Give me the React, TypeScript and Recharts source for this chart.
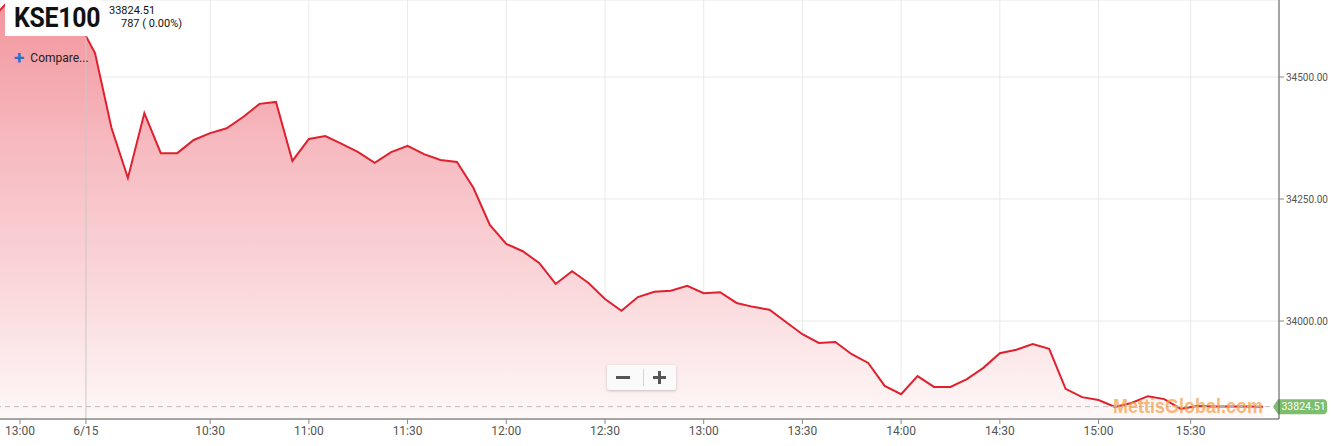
import React from 'react';
import { ComposedChart, Area, XAxis, YAxis, CartesianGrid, ReferenceLine } from 'recharts';

// previous session tail (positions -6..-1)
const prevDayValues = [34629, 34665, 34680, 34680, 34665, 34612];
// 6/15 session
const dayValues = [
  34549, 34396, 34293, 34426, 34344, 34344, 34371, 34385, 34395, 34418,
  34445, 34449, 34328, 34373, 34379, 34363, 34346, 34324, 34346, 34359,
  34342, 34330, 34326, 34273, 34197, 34158, 34143, 34119, 34076, 34102,
  34078, 34045, 34021, 34049, 34060, 34062, 34072, 34057, 34059, 34037,
  34029, 34023, 33998, 33973, 33955, 33957, 33932, 33914, 33867, 33850,
  33887, 33865, 33865, 33881, 33904, 33934, 33941, 33953, 33943, 33861,
  33844, 33838, 33824, 33832, 33846, 33840, 33820, 33826, 33825, 33825,
  33825, 33824.51,
];
const tickPositions = [-4.56, -0.55, 7, 13, 19, 25, 31, 37, 43, 49, 55, 61, 66.6];
const tickLabels = ['13:00', '6/15', '10:30', '11:00', '11:30', '12:00', '12:30', '13:00', '13:30', '14:00', '14:30', '15:00', '15:30'];
const yTicks = [34000, 34250, 34500];
const lastPrice = 33824.51;
const symbol = 'KSE100';
const changeText = '787 ( 0.00%)';
const watermark = 'MettisGlobal.com';

const data = [
  ...prevDayValues.map((v, k) => ({ i: k - prevDayValues.length, v })),
  ...dayValues.map((v, k) => ({ i: k, v })),
];

const tickLabelMap: Record<string, string> = {};
tickPositions.forEach((p, k) => { tickLabelMap[String(p)] = tickLabels[k]; });

const PriceTag = (props: any) => {
  const vb = props.viewBox || {};
  const x0 = (vb.x || 0) + (vb.width || 0);
  const y = vb.y || 0;
  const left = x0 - 6;
  const bodyL = x0 - 1;
  const right = x0 + 48;
  const h = 15;
  const r = 4;
  const d = `M ${left} ${y} L ${bodyL} ${y - h / 2} L ${right - r} ${y - h / 2} Q ${right} ${y - h / 2} ${right} ${y - h / 2 + r} L ${right} ${y + h / 2 - r} Q ${right} ${y + h / 2} ${right - r} ${y + h / 2} L ${bodyL} ${y + h / 2} Z`;
  return (
    <g>
      <path d={d} fill="#7ebd6c" />
      <text x={(bodyL + right) / 2 + 1} y={y + 3.6} textAnchor="middle" fontSize={10.5} fill="#fff" fontFamily="Roboto, sans-serif">
        {lastPrice.toFixed(2)}
      </text>
    </g>
  );
};

export default function App() {
  return (
    <div style={{ position: 'fixed', left: 0, top: 0, width: 1334, height: 446, background: '#fff', overflow: 'hidden' }}>
      <ComposedChart width={1334} height={446} data={data} margin={{ top: 0, right: 0, bottom: 0, left: 0 }}>
        <defs>
          <linearGradient id="fillGrad" gradientUnits="userSpaceOnUse" x1="0" y1="0" x2="0" y2="419">
            <stop offset="0%" stopColor="#f3949c" />
            <stop offset="35%" stopColor="#f6bac0" />
            <stop offset="70%" stopColor="#fad9dc" />
            <stop offset="100%" stopColor="#fef8f8" />
          </linearGradient>
        </defs>
        <CartesianGrid stroke="#e9e9e9" strokeWidth={1} />
        <XAxis
          dataKey="i"
          type="number"
          domain={[-5.775, 71.97]}
          allowDataOverflow
          ticks={tickPositions}
          tickFormatter={(v: number) => tickLabelMap[String(v)] ?? ''}
          height={27}
          tickSize={5}
          tickMargin={2}
          interval={0}
          stroke="#555"
          tick={{ fill: '#555', fontSize: 12, fontFamily: 'Roboto, sans-serif' }}
          tickLine={{ stroke: '#888' }}
        />
        <YAxis
          orientation="right"
          type="number"
          domain={[33799.2, 34657.8]}
          allowDataOverflow
          ticks={yTicks}
          tickFormatter={(v: number) => v.toFixed(2)}
          width={55}
          tickSize={5}
          tickMargin={2}
          stroke="#555"
          tick={{ fill: '#555', fontSize: 10, fontFamily: 'Roboto, sans-serif', textAnchor: 'start' }}
          tickLine={{ stroke: '#888' }}
        />
        <ReferenceLine x={-0.55} stroke="#c8c8c8" strokeWidth={1} />
        <Area
          type="linear"
          dataKey="v"
          stroke="#e0202e"
          strokeWidth={2}
          fill="url(#fillGrad)"
          fillOpacity={1}
          isAnimationActive={false}
          dot={false}
          activeDot={false}
        />
        <ReferenceLine y={lastPrice} stroke="#bdbdbd" strokeDasharray="5 4" strokeWidth={1} label={<PriceTag />} />
      </ComposedChart>

      <div style={{ position: 'absolute', left: 5, top: 0, width: 96, height: 36, background: '#fff' }} />
      <div style={{ position: 'absolute', left: 14, top: 1, fontFamily: 'Roboto, sans-serif', fontWeight: 700, fontSize: 27, color: '#111', lineHeight: '34px', transform: 'scaleX(0.92)', transformOrigin: 'left center', letterSpacing: '-0.3px' }}>
        {symbol}
      </div>
      <div style={{ position: 'absolute', left: 109, top: 4, fontFamily: 'Roboto, sans-serif', fontSize: 11, color: '#111', lineHeight: '13px' }}>
        {lastPrice.toFixed(2)}
      </div>
      <div style={{ position: 'absolute', left: 121, top: 17, fontFamily: 'Roboto, sans-serif', fontSize: 11, color: '#111', lineHeight: '13px' }}>
        {changeText}
      </div>
      <div style={{ position: 'absolute', left: 14, top: 50, fontFamily: 'Roboto, sans-serif', fontSize: 12, color: '#222', lineHeight: '16px', display: 'flex', alignItems: 'center' }}>
        <span style={{ color: '#2f6fd0', fontSize: 19, fontWeight: 700, marginRight: 6, lineHeight: '16px' }}>+</span>
        <span>Compare...</span>
      </div>

      <div style={{ position: 'absolute', left: 607, top: 365, width: 69, height: 25, background: '#fafafa', borderRadius: 2, boxShadow: '0 1px 3px rgba(0,0,0,0.22)', fontFamily: 'Roboto, sans-serif' }}>
        <div style={{ position: 'absolute', left: 36, top: 4, width: 1, height: 17, background: '#d6d6d6' }} />
        <div style={{ position: 'absolute', left: 9, top: 11, width: 14, height: 3, background: '#555' }} />
        <div style={{ position: 'absolute', left: 46, top: 11, width: 13, height: 3, background: '#555' }} />
        <div style={{ position: 'absolute', left: 51, top: 6, width: 3, height: 13, background: '#555' }} />
      </div>

      <div style={{ position: 'absolute', left: 1113, top: 395, fontFamily: '"Liberation Sans", Arial, sans-serif', fontWeight: 700, fontSize: 20, color: 'rgba(245,160,70,0.72)', lineHeight: '23px', whiteSpace: 'nowrap', transform: 'scaleX(0.9)', transformOrigin: 'left center' }}>
        {watermark}
      </div>
    </div>
  );
}
